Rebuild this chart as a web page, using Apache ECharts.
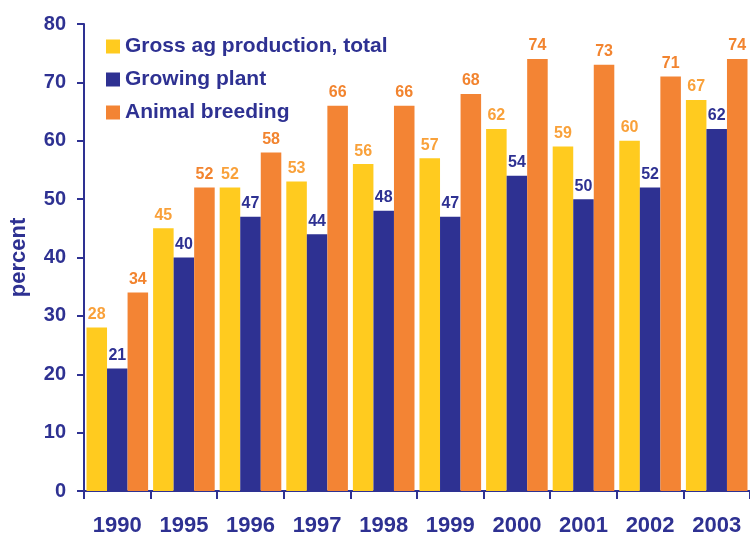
<!DOCTYPE html>
<html>
<head>
<meta charset="utf-8">
<style>
  html, body { margin: 0; padding: 0; background: #fff; }
  #chart { width: 750px; height: 537px; }
</style>
<script src="https://cdn.jsdelivr.net/npm/echarts@6/dist/echarts.min.js"></script>
</head>
<body>
<div id="chart"></div>
<script>
// Agricultural production indices, percent
const years = ['1990', '1995', '1996', '1997', '1998', '1999', '2000', '2001', '2002', '2003'];
const grossTotal = [28, 45, 52, 53, 56, 57, 62, 59, 60, 67];
const growingPlant = [21, 40, 47, 44, 48, 47, 54, 50, 52, 62];
const animalBreeding = [34, 52, 58, 66, 66, 68, 74, 73, 71, 74];
const yTicks = { min: 0, max: 80, interval: 10 };

const NAVY = '#2E3192';
const YELLOW = '#FFCB1F';
const ORANGE = '#F38434';
const FONT = '"Liberation Sans", Arial, Helvetica, sans-serif';

function barSeries(name, data, color, labelColor) {
  return {
    name: name,
    type: 'bar',
    data: data,
    barGap: '0%',
    barCategoryGap: '7.5%',
    itemStyle: { color: color },
    label: {
      show: true,
      position: 'top',
      distance: 5,
      color: labelColor,
      fontFamily: FONT,
      fontWeight: 'bold',
      fontSize: 16
    }
  };
}

const chart = echarts.init(document.getElementById('chart'));
chart.setOption({
  backgroundColor: '#ffffff',
  animation: false,
  textStyle: { fontFamily: FONT },
  grid: { left: 84, top: 24, width: 670, height: 470, containLabel: false },
  legend: {
    orient: 'vertical',
    left: 106,
    top: 36,
    padding: 0,
    itemWidth: 14,
    itemHeight: 14,
    itemGap: 12,
    icon: 'rect',
    textStyle: { color: NAVY, fontFamily: FONT, fontWeight: 'bold', fontSize: 21 },
    data: ['Gross ag production, total', 'Growing plant', 'Animal breeding']
  },
  xAxis: {
    type: 'category',
    data: years,
    boundaryGap: true,
    axisLine: { show: true, lineStyle: { color: NAVY, width: 2 } },
    axisTick: { show: true, length: 8, alignWithLabel: false, lineStyle: { color: NAVY, width: 2 } },
    axisLabel: { color: NAVY, fontFamily: FONT, fontWeight: 'bold', fontSize: 22, margin: 24 },
    splitLine: { show: false }
  },
  yAxis: {
    type: 'value',
    min: yTicks.min,
    max: yTicks.max,
    interval: yTicks.interval,
    name: 'percent',
    nameLocation: 'middle',
    nameGap: 54,
    nameRotate: 90,
    nameTextStyle: { color: NAVY, fontFamily: FONT, fontWeight: 'bold', fontSize: 22 },
    axisLine: { show: true, lineStyle: { color: NAVY, width: 2 } },
    axisTick: { show: true, length: 7, lineStyle: { color: NAVY, width: 2 } },
    axisLabel: { color: NAVY, fontFamily: FONT, fontWeight: 'bold', fontSize: 20, margin: 18 },
    splitLine: { show: false }
  },
  series: [
    barSeries('Gross ag production, total', grossTotal, YELLOW, '#F9A13A'),
    barSeries('Growing plant', growingPlant, NAVY, NAVY),
    barSeries('Animal breeding', animalBreeding, ORANGE, '#F2842F')
  ]
});
</script>
</body>
</html>
